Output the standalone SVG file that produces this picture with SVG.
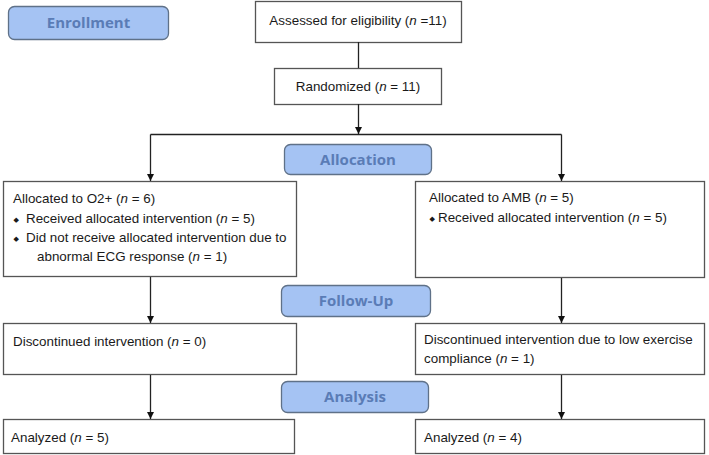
<svg xmlns="http://www.w3.org/2000/svg" width="709" height="455" viewBox="0 0 709 455">
<defs>
<marker id="ah" markerWidth="8" markerHeight="8" refX="7" refY="4" orient="auto" markerUnits="userSpaceOnUse">
<path d="M0,0.5 L7,4 L0,7.5 Z" fill="#111"/>
</marker>
<style>
.box{fill:#fff;stroke:#555;stroke-width:1.3}
.lab{fill:#a5c3f3;stroke:#5f7188;stroke-width:1.3}
.lt{font-family:"Open Sans","DejaVu Sans",sans-serif;font-weight:bold;font-size:15px;fill:#5a7cb6;text-anchor:middle}
.t{font-family:"Liberation Sans",Arial,sans-serif;font-size:13.4px;fill:#1a1a1a}
.b{font-family:"DejaVu Sans",sans-serif;font-size:7px;fill:#1a1a1a}
.c{stroke:#222;stroke-width:1.3;fill:none}
</style>
</defs>
<rect width="709" height="455" fill="#fff"/>

<g id="label-enrollment">
<rect class="lab" x="8.5" y="6.5" width="160" height="33" rx="6"/>
<text class="lt" x="88.5" y="28">Enrollment</text>
</g>
<g id="label-allocation">
<rect class="lab" x="284.5" y="144.5" width="147" height="30" rx="6"/>
<text class="lt" x="358" y="165">Allocation</text>
</g>
<g id="label-followup">
<rect class="lab" x="281.5" y="285.5" width="149" height="31" rx="6"/>
<text class="lt" x="356" y="306">Follow-Up</text>
</g>
<g id="label-analysis">
<rect class="lab" x="281.5" y="381.5" width="147" height="31" rx="6"/>
<text class="lt" x="355" y="402">Analysis</text>
</g>

<g id="assessed">
<rect class="box" x="255.5" y="1.5" width="206" height="41"/>
<text class="t" x="358" y="25" text-anchor="middle">Assessed for eligibility (<tspan font-style="italic">n</tspan> =11)</text>
</g>
<g id="randomized">
<rect class="box" x="274.5" y="68.5" width="167" height="36"/>
<text class="t" x="358" y="91" text-anchor="middle">Randomized (<tspan font-style="italic">n</tspan> = 11)</text>
</g>

<g id="alloc-o2">
<rect class="box" x="3.5" y="181.5" width="293" height="95"/>
<text class="t" x="13" y="203">Allocated to O2+ (<tspan font-style="italic">n</tspan> = 6)</text>
<text class="b" x="13.5" y="222">◆</text>
<text class="t" x="26" y="223">Received allocated intervention (<tspan font-style="italic">n</tspan> = 5)</text>
<text class="b" x="13.5" y="241">◆</text>
<text class="t" x="26" y="242">Did not receive allocated intervention due to</text>
<text class="t" x="37" y="261">abnormal ECG response (<tspan font-style="italic">n</tspan> = 1)</text>
</g>
<g id="alloc-amb">
<rect class="box" x="415.5" y="181.5" width="289" height="96"/>
<text class="t" x="429" y="202">Allocated to AMB (<tspan font-style="italic">n</tspan> = 5)</text>
<text class="b" x="429.5" y="221">◆</text>
<text class="t" x="438" y="222">Received allocated intervention (<tspan font-style="italic">n</tspan> = 5)</text>
</g>

<g id="disc-o2">
<rect class="box" x="3.5" y="323.5" width="293" height="51"/>
<text class="t" x="13" y="346">Discontinued intervention (<tspan font-style="italic">n</tspan> = 0)</text>
</g>
<g id="disc-amb">
<rect class="box" x="415.5" y="323.5" width="289" height="51"/>
<text class="t" x="424" y="344">Discontinued intervention due to low exercise</text>
<text class="t" x="424" y="363">compliance (<tspan font-style="italic">n</tspan> = 1)</text>
</g>

<g id="analyzed-o2">
<rect class="box" x="3.5" y="419.5" width="291" height="34"/>
<text class="t" x="11" y="442">Analyzed (<tspan font-style="italic">n</tspan> = 5)</text>
</g>
<g id="analyzed-amb">
<rect class="box" x="415.5" y="419.5" width="289" height="34"/>
<text class="t" x="424" y="442">Analyzed (<tspan font-style="italic">n</tspan> = 4)</text>
</g>

<g id="connectors">
<line class="c" x1="358.5" y1="42" x2="358.5" y2="68"/>
<line class="c" x1="358.5" y1="104" x2="358.5" y2="134" marker-end="url(#ah)"/>
<line class="c" x1="150.5" y1="134.5" x2="561.5" y2="134.5"/>
<line class="c" x1="150.5" y1="134.5" x2="150.5" y2="181" marker-end="url(#ah)"/>
<line class="c" x1="561.5" y1="134.5" x2="561.5" y2="181" marker-end="url(#ah)"/>
<line class="c" x1="150.5" y1="277" x2="150.5" y2="323" marker-end="url(#ah)"/>
<line class="c" x1="561.5" y1="278" x2="561.5" y2="323" marker-end="url(#ah)"/>
<line class="c" x1="150.5" y1="375" x2="150.5" y2="419" marker-end="url(#ah)"/>
<line class="c" x1="561.5" y1="375" x2="561.5" y2="419" marker-end="url(#ah)"/>
</g>
</svg>
